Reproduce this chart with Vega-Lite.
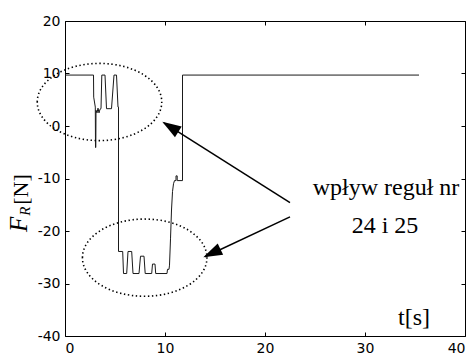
{
  "$schema": "https://vega.github.io/schema/vega-lite/v6.json",
  "width": 400,
  "height": 315,
  "autosize": {"type": "none"},
  "padding": {"left": 65, "top": 21, "right": 10, "bottom": 18},
  "background": "white",
  "config": {
    "view": {"stroke": "black", "strokeWidth": 1},
    "axis": {
      "grid": false,
      "domain": false,
      "tickColor": "black",
      "tickSize": -4,
      "labelPadding": 9,
      "labelFont": "DejaVu Sans",
      "labelFontSize": 14,
      "labelColor": "black",
      "title": null
    }
  },
  "datasets": {
    "signal": [
      {"t": 0, "F": 9.7}, {"t": 2.85, "F": 9.7}, {"t": 2.87, "F": 5.5}, {"t": 3.03, "F": 3.6},
      {"t": 3.05, "F": -4.1}, {"t": 3.08, "F": -4.1}, {"t": 3.1, "F": 3.0}, {"t": 3.2, "F": 2.5},
      {"t": 3.3, "F": 3.4}, {"t": 3.4, "F": 2.5}, {"t": 3.5, "F": 3.2}, {"t": 3.6, "F": 3.3},
      {"t": 3.68, "F": 9.7}, {"t": 4.0, "F": 9.7}, {"t": 4.15, "F": 3.3}, {"t": 4.65, "F": 3.3},
      {"t": 4.9, "F": 9.7}, {"t": 5.15, "F": 9.7}, {"t": 5.3, "F": 3.6}, {"t": 5.35, "F": 3.6},
      {"t": 5.35, "F": -23.9}, {"t": 5.77, "F": -23.9}, {"t": 5.85, "F": -28.1}, {"t": 6.17, "F": -28.1},
      {"t": 6.3, "F": -23.9}, {"t": 6.67, "F": -23.9}, {"t": 6.8, "F": -28.1}, {"t": 7.4, "F": -28.1},
      {"t": 7.55, "F": -24.8}, {"t": 7.9, "F": -24.8}, {"t": 8.02, "F": -28.1}, {"t": 8.67, "F": -28.1},
      {"t": 8.75, "F": -26.3}, {"t": 9.0, "F": -26.3}, {"t": 9.07, "F": -28.1}, {"t": 10.2, "F": -28.1},
      {"t": 10.25, "F": -27.3}, {"t": 10.4, "F": -27.3}, {"t": 10.45, "F": -26.5}, {"t": 10.55, "F": -21.5},
      {"t": 10.65, "F": -16}, {"t": 10.75, "F": -12.5}, {"t": 10.85, "F": -11}, {"t": 10.95, "F": -10.4},
      {"t": 11.1, "F": -10.4}, {"t": 11.1, "F": -9.5}, {"t": 11.22, "F": -9.5}, {"t": 11.22, "F": -10.4},
      {"t": 11.75, "F": -10.4}, {"t": 11.75, "F": 9.7}, {"t": 35.4, "F": 9.7}
    ],
    "ellipses": [
      {"t": 3.45, "F": 4.57},
      {"t": 7.97, "F": -25.08}
    ],
    "arrows": [
      {"t": 22.5, "F": -14.6, "t2": 9.9, "F2": 0.6},
      {"t": 22.5, "F": -17.3, "t2": 14.0, "F2": -24.9}
    ],
    "labels": [
      {"t": 32.1, "F": -13.1, "text": "wpływ reguł nr"},
      {"t": 32.0, "F": -20.4, "text": "24 i 25"},
      {"t": 34.9, "F": -37.9, "text": "t[s]"}
    ],
    "one": [{}]
  },
  "resolve": {"axis": {"x": "independent", "y": "independent"}},
  "layer": [
    {
      "data": {"name": "signal"},
      "mark": {"type": "line", "color": "#1a1a1a", "strokeWidth": 1},
      "encoding": {
        "x": {"field": "t", "type": "quantitative", "scale": {"domain": [0, 40], "nice": false},
              "axis": {"orient": "bottom", "values": [0, 10, 20, 30, 40]}},
        "y": {"field": "F", "type": "quantitative", "scale": {"domain": [-40, 20], "nice": false},
              "axis": {"orient": "left", "values": [-40, -30, -20, -10, 0, 10, 20],
                       "labelExpr": "replace(datum.label, '\u2212', '-')"}},
        "order": {"value": null}
      }
    },
    {
      "data": {"name": "ellipses"},
      "mark": {"type": "point", "shape": "M-1,0 A1,0.62 0 1,1 1,0 A1,0.62 0 1,1 -1,0 Z",
               "size": 15500, "filled": false, "stroke": "black", "strokeWidth": 1.6,
               "strokeDash": [1.4, 2.6], "opacity": 1, "clip": false},
      "encoding": {
        "x": {"field": "t", "type": "quantitative", "axis": {"orient": "top", "labels": false, "values": [0, 10, 20, 30, 40]}},
        "y": {"field": "F", "type": "quantitative", "axis": {"orient": "right", "labels": false, "values": [-40, -30, -20, -10, 0, 10, 20]}}
      }
    },
    {
      "data": {"name": "arrows"},
      "mark": {"type": "rule", "color": "black", "strokeWidth": 1.5},
      "encoding": {
        "x": {"field": "t", "type": "quantitative", "axis": null},
        "y": {"field": "F", "type": "quantitative", "axis": null},
        "x2": {"field": "t2"},
        "y2": {"field": "F2"}
      }
    },
    {
      "data": {"name": "one"},
      "mark": {"type": "point", "shape": "M0,0 L-1,-0.33 L-1,0.33 Z", "size": 1444, "filled": true,
               "color": "black", "opacity": 1, "angle": 212.4},
      "encoding": {
        "x": {"datum": 9.73, "type": "quantitative", "axis": null},
        "y": {"datum": 0.82, "type": "quantitative", "axis": null}
      }
    },
    {
      "data": {"name": "one"},
      "mark": {"type": "point", "shape": "M0,0 L-1,-0.33 L-1,0.33 Z", "size": 1444, "filled": true,
               "color": "black", "opacity": 1, "angle": 154.4},
      "encoding": {
        "x": {"datum": 13.83, "type": "quantitative", "axis": null},
        "y": {"datum": -25.0, "type": "quantitative", "axis": null}
      }
    },
    {
      "data": {"name": "labels"},
      "mark": {"type": "text", "font": "Liberation Serif", "fontSize": 24, "color": "black",
               "align": "center", "baseline": "alphabetic"},
      "encoding": {
        "x": {"field": "t", "type": "quantitative", "axis": null},
        "y": {"field": "F", "type": "quantitative", "axis": null},
        "text": {"field": "text"}
      }
    },
    {
      "data": {"name": "one"},
      "mark": {"type": "text", "font": "Liberation Serif", "fontStyle": "italic", "fontSize": 25,
               "color": "black", "align": "left", "baseline": "alphabetic", "angle": 270, "clip": false},
      "encoding": {
        "x": {"datum": -3.85, "type": "quantitative", "axis": null},
        "y": {"datum": -20.2, "type": "quantitative", "axis": null},
        "text": {"value": "F"}
      }
    },
    {
      "data": {"name": "one"},
      "mark": {"type": "text", "font": "Liberation Serif", "fontStyle": "italic", "fontSize": 15,
               "color": "black", "align": "left", "baseline": "alphabetic", "angle": 270, "clip": false},
      "encoding": {
        "x": {"datum": -3.5, "type": "quantitative", "axis": null},
        "y": {"datum": -17.1, "type": "quantitative", "axis": null},
        "text": {"value": "R"}
      }
    },
    {
      "data": {"name": "one"},
      "mark": {"type": "text", "font": "Liberation Serif", "fontSize": 22,
               "color": "black", "align": "left", "baseline": "alphabetic", "angle": 270, "clip": false},
      "encoding": {
        "x": {"datum": -3.75, "type": "quantitative", "axis": null},
        "y": {"datum": -15.0, "type": "quantitative", "axis": null},
        "text": {"value": "[N]"}
      }
    }
  ]
}
